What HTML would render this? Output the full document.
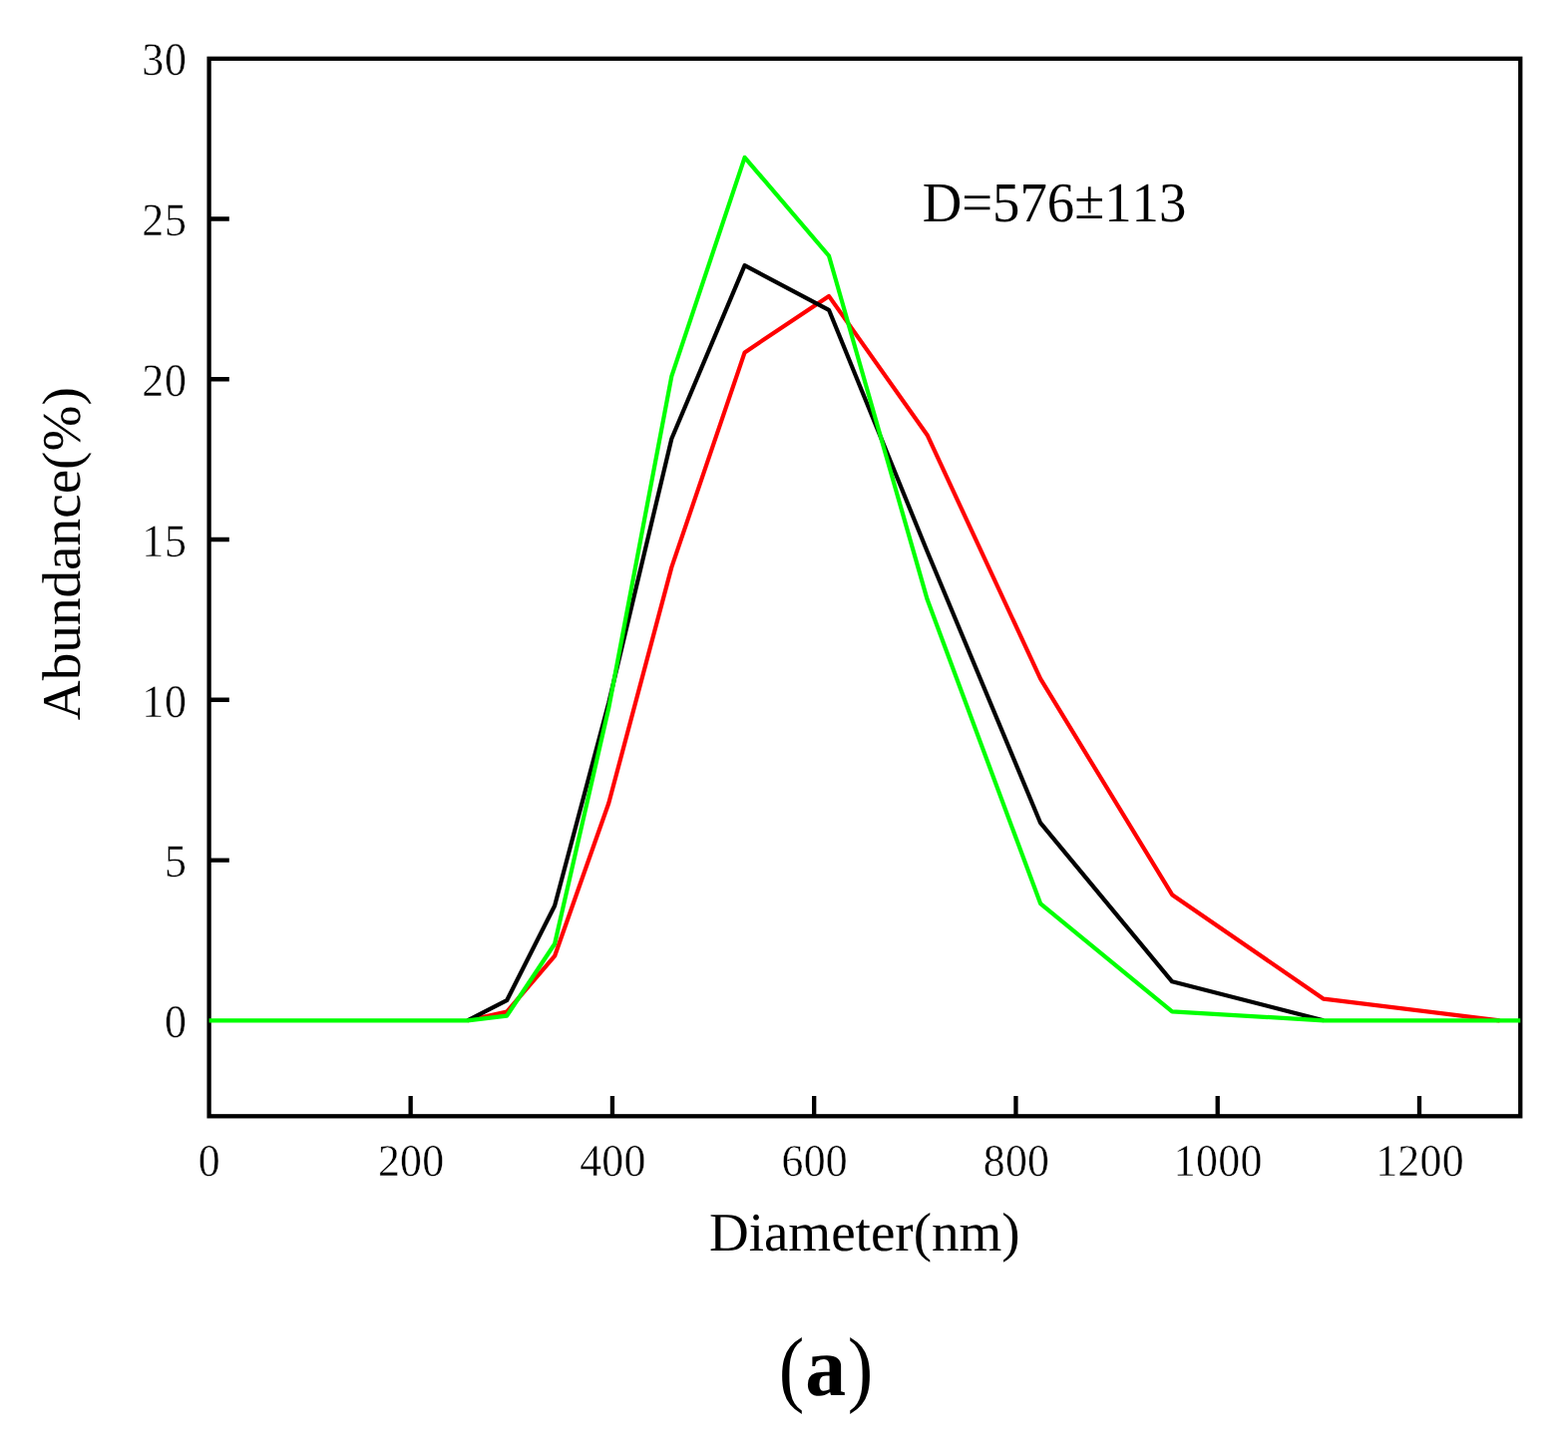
<!DOCTYPE html>
<html lang="en">
<head>
<meta charset="utf-8">
<title>Particle diameter distribution (a)</title>
<style>
html,body{margin:0;padding:0;background:#fff;}
body{width:1572px;height:1448px;overflow:hidden;}
svg{display:block;}
text{font-family:"Liberation Serif","Noto Serif CJK SC",serif;fill:#000;text-rendering:geometricPrecision;font-kerning:none;}
</style>
</head>
<body>
<svg width="1572" height="1448" viewBox="0 0 1572 1448" role="img" aria-label="Abundance versus diameter">
<rect x="0" y="0" width="1572" height="1448" fill="#fff"/>
<g fill="none" stroke="#000" stroke-width="4.3">
<rect x="209.6" y="58.8" width="1314.65" height="1060.50"/>
<path d="M209.6 862.53h20.2 M209.6 701.77h20.2 M209.6 541.00h20.2 M209.6 380.24h20.2 M209.6 219.48h20.2 M411.66 1119.3v-20.2 M613.93 1119.3v-20.2 M816.19 1119.3v-20.2 M1018.46 1119.3v-20.2 M1220.72 1119.3v-20.2 M1422.98 1119.3v-20.2"/>
</g>
<g fill="none" stroke-width="4.2" stroke-linejoin="round" stroke-linecap="butt">
<polyline stroke="#f00" points="468.7,1023.3 508.1,1014.6 556.1,958.7 610.3,805.3 673.3,568.9 746.6,353.4 831.0,296.9 929.6,436.2 1043.1,680.7 1175.1,897.2 1327.0,1001.7 1503.5,1023.3"/>
<polyline stroke="#000" points="468.7,1023.3 508.1,1003.2 556.1,908.2 610.3,704.5 673.3,440.0 746.6,266.1 831.0,310.8 929.6,553.0 1043.1,825.2 1175.1,984.3 1327.0,1023.3"/>
<polyline stroke="#0f0" points="209.6,1023.3 468.7,1023.3 508.1,1018.7 556.1,946.5 610.3,709.8 673.3,377.3 746.6,157.8 831.0,256.5 929.6,601.1 1043.1,906.1 1175.1,1014.4 1327.0,1023.3 1503.5,1023.3 1524.2,1023.3"/>
</g>
<g class="ticklabels" stroke="#fff" stroke-width="0.4">
<text transform="translate(142.32 75.49) scale(0.945 1)" font-size="46.5" letter-spacing="0.7">30</text>
<text transform="translate(142.32 236.25) scale(0.945 1)" font-size="46.5" letter-spacing="0.7">25</text>
<text transform="translate(142.32 397.02) scale(0.945 1)" font-size="46.5" letter-spacing="0.7">20</text>
<text transform="translate(142.32 557.78) scale(0.945 1)" font-size="46.5" letter-spacing="0.7">15</text>
<text transform="translate(142.32 718.55) scale(0.945 1)" font-size="46.5" letter-spacing="0.7">10</text>
<text transform="translate(164.95 879.31) scale(0.945 1)" font-size="46.5" letter-spacing="0.7">5</text>
<text transform="translate(164.95 1040.08) scale(0.945 1)" font-size="46.5" letter-spacing="0.7">0</text>
<text transform="translate(198.85 1178.87) scale(0.965 1)" font-size="45.4" letter-spacing="0.3">0</text>
<text transform="translate(378.92 1178.87) scale(0.965 1)" font-size="45.4" letter-spacing="0.3">200</text>
<text transform="translate(581.18 1178.87) scale(0.965 1)" font-size="45.4" letter-spacing="0.3">400</text>
<text transform="translate(783.44 1178.87) scale(0.965 1)" font-size="45.4" letter-spacing="0.3">600</text>
<text transform="translate(985.71 1178.87) scale(0.965 1)" font-size="45.4" letter-spacing="0.3">800</text>
<text transform="translate(1176.87 1178.87) scale(0.965 1)" font-size="45.4" letter-spacing="0.3">1000</text>
<text transform="translate(1379.14 1178.87) scale(0.965 1)" font-size="45.4" letter-spacing="0.3">1200</text>
</g>
<text transform="translate(924.72 222.15) scale(0.9773 1.0073)" font-size="56">D=576<tspan dy="-3.4">±</tspan><tspan dy="3.4">113</tspan></text>
<text transform="translate(79.80 722.14) rotate(-90) scale(1.0032 0.9906)" font-size="55">Abundance(%)</text>
<text transform="translate(710.91 1253.95) scale(1.0006 0.9946)" font-size="55">Diameter(nm)</text>
<g class="panel"><text transform="translate(780.63 1399.70) scale(0.8716 0.9663)" font-size="88">(</text><text transform="translate(807.37 1399.17) scale(0.9289 0.9655)" font-size="88" font-weight="bold">a</text><text transform="translate(849.83 1399.70) scale(0.8716 0.9663)" font-size="88">)</text></g>
</svg>
</body>
</html>
